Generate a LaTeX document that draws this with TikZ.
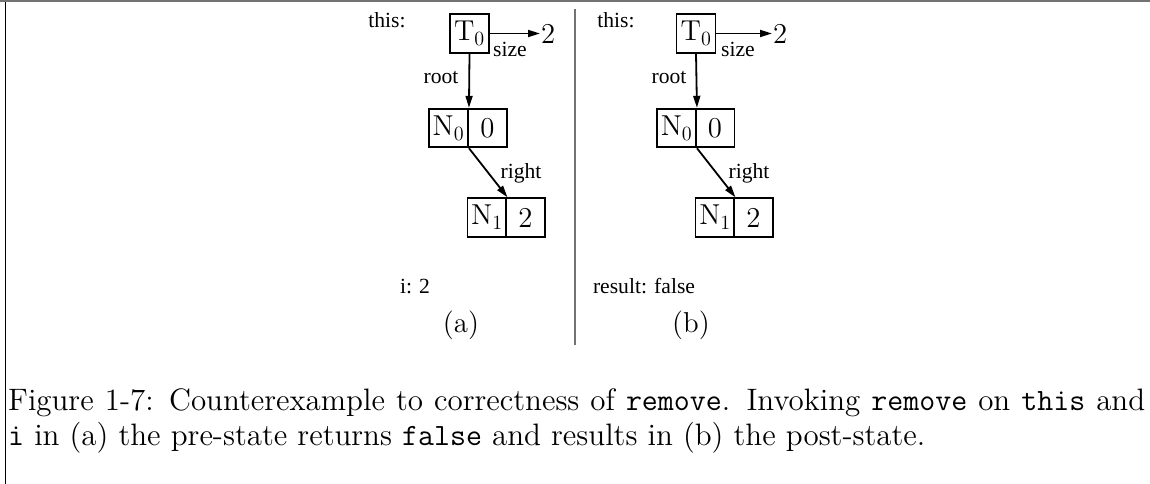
\documentclass[tikz,border=0pt]{standalone}
\usepackage{fontspec}
\newfontfamily\tms{Liberation Serif}
\newfontfamily\lmr{lmroman12-regular.otf}
\newfontfamily\lmtt{lmmono12-regular.otf}
\renewcommand{\texttt}[1]{{\lmtt #1}}
\usetikzlibrary{arrows.meta}
\tikzset{
  cmtxt/.style={font=\fontsize{28.8}{34.8}\lmr},
  tmtxt/.style={font=\fontsize{21.6}{26}\tms, inner sep=0pt},
  cellbox/.style={draw, line width=1.9pt, minimum width=39pt, minimum height=38.5pt, inner sep=0pt, cmtxt},
  ptrarrow/.style={line width=1.8pt, -{Stealth[length=12pt,width=7pt,inset=0pt]}},
  grayrule/.style={line width=1.8pt, black!55},
  captxt/.style={font=\fontsize{31}{37}\lmr, inner sep=0pt, anchor=base west}
}
\begin{document}
\begin{tikzpicture}[x=1pt,y=-1pt]
\useasboundingbox (0,0) rectangle (1150,484);
% frame lines
\draw[grayrule] (0,1) -- (1150,1);
\draw[line width=1.8pt] (5.5,2) -- (5.5,484);
\draw[grayrule] (575,9) -- (575,345);

% ---------- panel (a)
\node[tmtxt] (thisa) at (387,20) {this:};
\node[cellbox] (ta) at (469.5,33.5) {T\textsubscript{0}};
\coordinate (sza) at (540,33.5);
\node[cmtxt, inner sep=0pt, anchor=west] (twoa) at (541,33.5) {2};
\draw[ptrarrow] (ta.east) -- (sza);
\node[tmtxt] (sizea) at (510,49) {size};
\node[cellbox] (n0a) at (448.5,128) {N\textsubscript{0}};
\node[cellbox] (n0va) at (487.5,128) {0};
\draw[ptrarrow] (ta.south) -- (n0a.north east);
\node[tmtxt] (roota) at (441,78) {root};
\node[cellbox] (n1a) at (487,217.5) {N\textsubscript{1}};
\node[cellbox] (n1va) at (525.5,217.5) {2};
\draw[ptrarrow] (n0a.south east) -- (n1a.north east);
\node[tmtxt] (righta) at (521,173) {right};
\node[tmtxt] (ia) at (415,286) {i: 2};
\node[cmtxt, inner sep=0pt] (laba) at (461,325) {(a)};

% ---------- panel (b)
\node[tmtxt] (thisb) at (616,20) {this:};
\node[cellbox] (tb) at (696,33.5) {T\textsubscript{0}};
\coordinate (szb) at (772,33.5);
\node[cmtxt, inner sep=0pt, anchor=west] (twob) at (773,33.5) {2};
\draw[ptrarrow] (tb.east) -- (szb);
\node[tmtxt] (sizeb) at (738,49) {size};
\node[cellbox] (n0b) at (676.5,128) {N\textsubscript{0}};
\node[cellbox] (n0vb) at (715,128) {0};
\draw[ptrarrow] (tb.south) -- (n0b.north east);
\node[tmtxt] (rootb) at (669,78) {root};
\node[cellbox] (n1b) at (715,217.5) {N\textsubscript{1}};
\node[cellbox] (n1vb) at (753.5,217.5) {2};
\draw[ptrarrow] (n0b.south east) -- (n1b.north east);
\node[tmtxt] (rightb) at (749,173) {right};
\node[tmtxt] (resb) at (644,286) {result: false};
\node[cmtxt, inner sep=0pt] (labb) at (691,325) {(b)};

% ---------- caption
\node[captxt] (capa) at (8,410) {\makebox[1137pt][s]{Figure 1-7: Counterexample to correctness of \texttt{remove}. Invoking \texttt{remove} on \texttt{this} and}};
\node[captxt] (capb) at (8,445) {\texttt{i} in (a) the pre-state returns \texttt{false} and results in (b) the post-state.};
\end{tikzpicture}
\end{document}
